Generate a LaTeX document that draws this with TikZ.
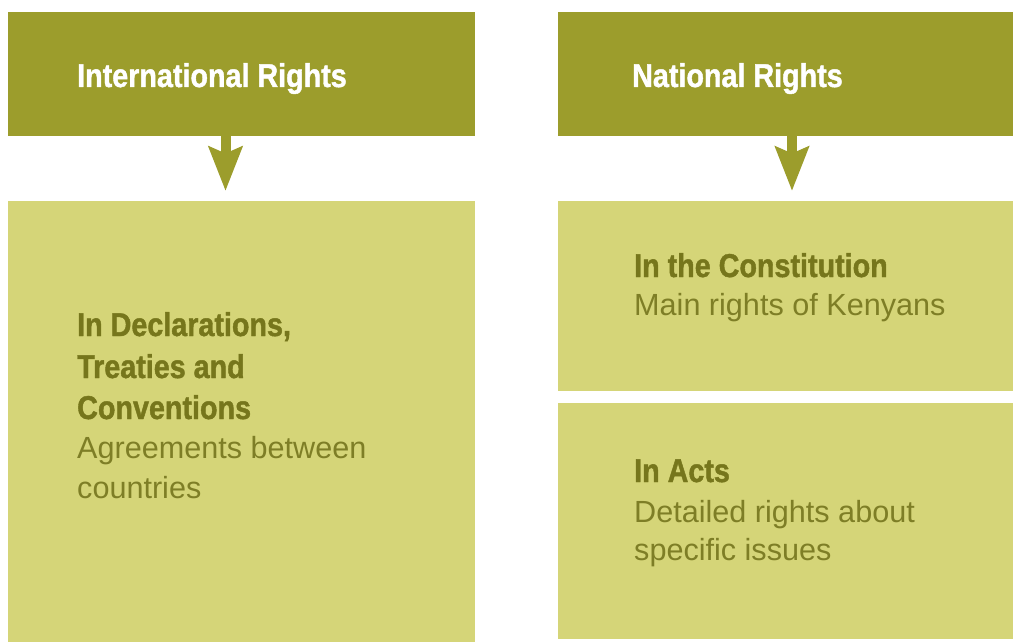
\documentclass[tikz,border=0pt]{standalone}
\usepackage{fontspec}
\setmainfont{Liberation Sans}
\newfontfamily\condbold[FakeStretch=0.87, FakeBold=1.3]{Liberation Sans Bold}
\usetikzlibrary{arrows.meta}
\definecolor{hdrfill}{HTML}{9C9D2C}
\definecolor{boxfill}{HTML}{D5D578}
\definecolor{txtcol}{HTML}{76761C}
\definecolor{bodycol}{HTML}{7E7E26}
\tikzset{
  x=1pt, y=-1pt,
  hdrbox/.style={fill=hdrfill, draw=none},
  litebox/.style={fill=boxfill, draw=none},
  hdrtext/.style={anchor=base west, inner sep=0pt, text=white, font=\condbold\fontsize{33}{33}\selectfont},
  subhead/.style={anchor=base west, inner sep=0pt, text=txtcol, font=\condbold\fontsize{33}{33}\selectfont},
  bodytext/.style={anchor=base west, inner sep=0pt, text=bodycol, font=\fontsize{30.6}{30.6}\selectfont},
  downarrow/.style={draw=hdrfill, line width=10pt, shorten >=10pt,
    -{Stealth[length=44pt, width=33pt, inset=6.5pt, fill=hdrfill]}}
}
\begin{document}
\begin{tikzpicture}
\useasboundingbox (0,0) rectangle (1013,642);
% boxes
\path[hdrbox] (8,12) rectangle (475,136);
\path[hdrbox] (558,12) rectangle (1013,136);
\path[litebox] (8,201) rectangle (475,642);
\path[litebox] (558,201) rectangle (1013,391);
\path[litebox] (558,403) rectangle (1013,639);
% anchors for arrows
\coordinate (a1top) at (225.5,136);
\coordinate (a1bot) at (225.5,201);
\coordinate (a2top) at (792,136);
\coordinate (a2bot) at (792,201);
\draw[downarrow] (a1top) -- (a1bot);
\draw[downarrow] (a2top) -- (a2bot);
% header texts
\node[hdrtext] (t1) at (77,87) {International Rights};
\node[hdrtext] (t2) at (632,87) {National Rights};
% left box text
\node[subhead] (l1) at (77,336) {In Declarations,};
\node[subhead] (l2) at (77,378) {Treaties and};
\node[subhead] (l3) at (77,419) {Conventions};
\node[bodytext] (l4) at (77,458) {Agreements between};
\node[bodytext] (l5) at (77,498) {countries};
% right top
\node[subhead] (r1) at (634,277) {In the Constitution};
\node[bodytext] (r2) at (634,315) {Main rights of Kenyans};
% right bottom
\node[subhead] (r3) at (634,482) {In Acts};
\node[bodytext] (r4) at (634,522) {Detailed rights about};
\node[bodytext] (r5) at (634,560) {specific issues};
\end{tikzpicture}
\end{document}
